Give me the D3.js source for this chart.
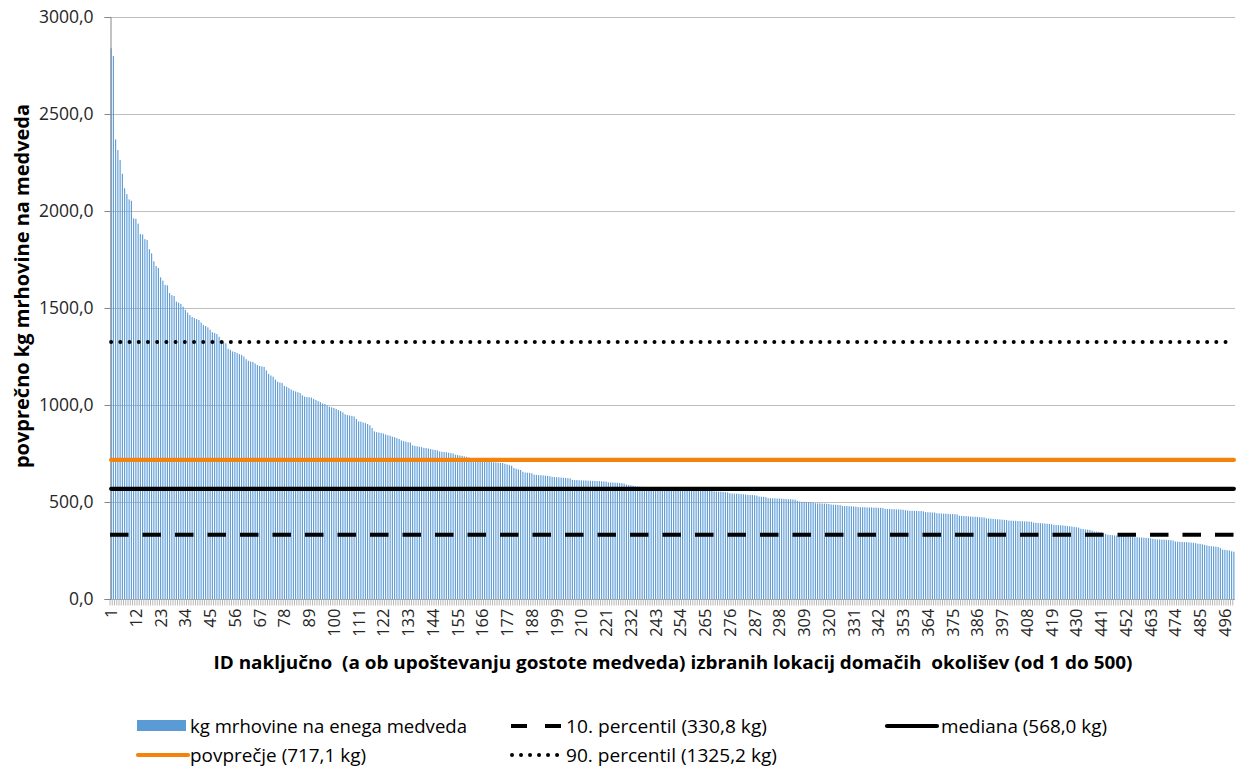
<!DOCTYPE html>
<html>
<head>
<meta charset="utf-8">
<script src="https://cdn.jsdelivr.net/npm/d3@7"></script>
<style>
  body { margin: 0; background: #fff; }
  text { font-family: "Open Sans", "DejaVu Sans", sans-serif; fill: #404040; }
</style>
</head>
<body>
<div id="chart"></div>
<script>
// kg mrhovine na enega medveda, sorted (ID 1..500)
var values = [
  2839, 2799, 2369, 2314, 2263, 2192, 2117, 2087, 2060, 2053,
  1962, 1960, 1935, 1881, 1879, 1855, 1850, 1803, 1782, 1741,
  1716, 1706, 1658, 1641, 1619, 1617, 1577, 1566, 1562, 1533,
  1528, 1521, 1507, 1490, 1476, 1464, 1454, 1448, 1443, 1438,
  1425, 1412, 1407, 1400, 1388, 1375, 1371, 1366, 1352, 1328,
  1326, 1318, 1290, 1284, 1276, 1273, 1268, 1262, 1258, 1250,
  1236, 1228, 1224, 1222, 1214, 1206, 1201, 1199, 1196, 1178,
  1160, 1152, 1146, 1131, 1120, 1116, 1113, 1098, 1094, 1087,
  1080, 1074, 1070, 1066, 1062, 1050, 1043, 1041, 1040, 1038,
  1031, 1026, 1020, 1015, 1008, 1005, 998, 991, 988, 985,
  980, 974, 969, 962, 952, 948, 946, 944, 941, 928,
  916, 914, 910, 907, 902, 895, 881, 864, 860, 858,
  856, 853, 848, 844, 842, 836, 834, 829, 825, 817,
  814, 811, 808, 806, 792, 789, 787, 785, 783, 779,
  778, 776, 773, 770, 768, 766, 761, 759, 758, 756,
  754, 752, 750, 744, 742, 740, 738, 735, 733, 729,
  724, 720, 716, 712, 711, 710, 709, 708, 707, 706,
  705, 704, 703, 702, 701, 697, 694, 690, 687, 675,
  671, 668, 665, 656, 652, 651, 650, 648, 641, 640,
  639, 638, 637, 636, 635, 633, 630, 629, 628, 627,
  626, 625, 624, 623, 622, 614, 613, 613, 612, 612,
  611, 611, 610, 610, 609, 609, 608, 608, 607, 606,
  605, 601, 600, 600, 599, 599, 598, 597, 595, 590,
  588, 586, 584, 581, 580, 579, 578, 578, 577, 576,
  576, 575, 574, 574, 573, 572, 571, 570, 569, 568,
  568, 567, 566, 566, 565, 565, 564, 564, 563, 563,
  562, 562, 561, 561, 560, 560, 559, 558, 555, 554,
  553, 553, 552, 551, 549, 545, 544, 543, 543, 542,
  541, 540, 539, 537, 536, 536, 535, 533, 528, 527,
  527, 525, 520, 520, 519, 519, 518, 518, 517, 516,
  515, 514, 514, 513, 512, 506, 502, 501, 501, 500,
  500, 499, 498, 494, 493, 493, 492, 492, 491, 490,
  487, 486, 486, 485, 484, 480, 479, 479, 478, 478,
  477, 476, 474, 473, 473, 473, 472, 472, 472, 471,
  471, 470, 470, 469, 465, 464, 464, 463, 463, 462,
  462, 461, 460, 458, 456, 455, 455, 454, 454, 453,
  453, 452, 448, 447, 447, 446, 446, 442, 441, 441,
  440, 440, 439, 438, 438, 437, 436, 429, 428, 428,
  427, 426, 425, 424, 424, 423, 422, 421, 420, 416,
  415, 414, 413, 412, 411, 410, 409, 408, 407, 404,
  404, 403, 403, 402, 401, 401, 400, 400, 399, 398,
  394, 393, 392, 391, 390, 389, 388, 387, 386, 382,
  381, 381, 380, 379, 378, 376, 375, 373, 372, 370,
  368, 362, 360, 359, 358, 356, 352, 348, 347, 346,
  344, 340, 336, 331, 330, 329, 328, 327, 326, 326,
  325, 324, 323, 322, 321, 318, 318, 317, 317, 316,
  315, 314, 313, 310, 308, 307, 307, 306, 306, 305,
  304, 303, 301, 296, 295, 295, 294, 293, 293, 292,
  291, 290, 288, 285, 284, 282, 279, 276, 273, 272,
  271, 270, 268, 262, 254, 253, 252, 250, 246, 244
];
var ids = d3.range(1, values.length + 1);

// statistics lines
var refNames = ["10. percentil (330,8 kg)", "mediana (568,0 kg)", "povprečje (717,1 kg)", "90. percentil (1325,2 kg)"];
var refValues = [330.8, 568.0, 717.1, 1325.2];

var yTicks = [0, 500, 1000, 1500, 2000, 2500, 3000];
var barLabel = "kg mrhovine na enega medveda";
var yTitle = "povprečno kg mrhovine na medveda";
var xTitle = "ID naključno  (a ob upoštevanju gostote medveda) izbranih lokacij domačih  okolišev (od 1 do 500)";

var width = 1236, height = 769;
var margin = { top: 17, right: 1, bottom: 170, left: 110 };

var svg = d3.select("#chart").append("svg")
  .attr("width", width)
  .attr("height", height);

var x = d3.scaleBand()
  .domain(ids)
  .range([margin.left, width - margin.right])
  .paddingInner(0.5)
  .paddingOuter(0.25);

var y = d3.scaleLinear()
  .domain([0, 3000])
  .range([height - margin.bottom, margin.top]);

var fmt = function (d) { return d3.format(".1f")(d).replace(".", ","); };

// gridlines
svg.append("g")
  .selectAll("line")
  .data(yTicks.slice(1))
  .enter().append("line")
  .attr("x1", margin.left).attr("x2", width - margin.right)
  .attr("y1", d => Math.round(y(d)) + 0.5).attr("y2", d => Math.round(y(d)) + 0.5)
  .style("stroke", "#bfbfbf");

// bars
svg.append("g")
  .selectAll("rect")
  .data(values)
  .enter().append("rect")
  .attr("x", (d, i) => x(ids[i]))
  .attr("width", x.bandwidth())
  .attr("y", d => y(d))
  .attr("height", d => y(0) - y(d))
  .style("fill", "#5b9bd5");

// x axis with a tick at every category
var xAxis = svg.append("g")
  .attr("transform", "translate(0," + (Math.round(y(0)) + 0.5) + ")");
xAxis.append("line")
  .attr("x1", margin.left).attr("x2", width - margin.right)
  .style("stroke", "#a6a6a6");
xAxis.selectAll("line.tick")
  .data(ids)
  .enter().append("line")
  .attr("class", "tick")
  .attr("x1", d => x(d) - x.step() * 0.25).attr("x2", d => x(d) - x.step() * 0.25)
  .attr("y1", 0).attr("y2", 6)
  .style("stroke", "#a6a6a6").style("stroke-width", 0.8);
xAxis.selectAll("text")
  .data(ids.filter(d => (d - 1) % 11 === 0))
  .enter().append("text")
  .attr("transform", d => "translate(" + (x(d) + x.bandwidth() / 2) + ",9) rotate(-90)")
  .attr("dy", "0.36em")
  .style("text-anchor", "end")
  .style("font-size", "16.5px")
  .style("fill", "#262626")
  .text(d => d);

// y axis
var yAxis = svg.append("g")
  .attr("transform", "translate(" + (margin.left + 0.5) + ",0)")
  .call(d3.axisLeft(y).tickValues(yTicks).tickFormat(fmt).tickSize(6).tickPadding(11));
yAxis.select(".domain").style("stroke", "#868686");
yAxis.selectAll(".tick line").style("stroke", "#868686");
yAxis.selectAll(".tick text")
  .style("font-size", "17.5px")
  .style("font-family", "'Open Sans', sans-serif")
  .style("fill", "#262626");

// statistic lines, from the first to the last category
var x0 = x(1) + x.bandwidth() / 2, x1 = x(500) + x.bandwidth() / 2;
var refStyles = [
  { color: "#000", dash: "18.5,14", cap: "butt", w: 4 },
  { color: "#000", dash: null, cap: "round", w: 4.2 },
  { color: "#f5820a", dash: null, cap: "round", w: 4.2 },
  { color: "#000", dash: "0.01,9.2", cap: "round", w: 4 }
];
svg.append("g")
  .selectAll("line")
  .data(refValues)
  .enter().append("line")
  .attr("x1", (d, i) => i === 0 ? margin.left : x0).attr("x2", x1)
  .attr("y1", d => y(d)).attr("y2", d => y(d))
  .style("stroke", (d, i) => refStyles[i].color)
  .style("stroke-width", (d, i) => refStyles[i].w)
  .style("stroke-linecap", (d, i) => refStyles[i].cap)
  .style("stroke-dasharray", (d, i) => refStyles[i].dash);

// axis titles
svg.append("text")
  .attr("transform", "translate(29,286) rotate(-90)")
  .style("text-anchor", "middle")
  .style("font-size", "20px")
  .style("font-weight", "bold")
  .style("fill", "#000")
  .text(yTitle);

svg.append("text")
  .attr("x", 673).attr("y", 669)
  .style("text-anchor", "middle")
  .style("font-size", "18px")
  .style("font-weight", "bold")
  .style("fill", "#000")
  .style("white-space", "pre")
  .attr("textLength", 919)
  .attr("lengthAdjust", "spacingAndGlyphs")
  .text(xTitle);

// legend
var legend = svg.append("g");
legend.append("rect")
  .attr("x", 137).attr("y", 720).attr("width", 49).attr("height", 11)
  .style("fill", "#5b9bd5");
var legItems = [
  { label: barLabel, x: 190, y: 733, len: 277 },
  { label: refNames[0], x: 566, y: 733, sym: 0, sx: 511, len: 201 },
  { label: refNames[1], x: 941, y: 733, sym: 1, sx: 887, len: 166 },
  { label: refNames[2], x: 190, y: 762, sym: 2, sx: 138, len: 176 },
  { label: refNames[3], x: 566, y: 762, sym: 3, sx: 512, len: 211 }
];
legItems.forEach(function (it) {
  if (it.sym !== undefined) {
    var s = refStyles[it.sym];
    legend.append("line")
      .attr("x1", it.sx).attr("x2", it.sx + 50)
      .attr("y1", it.y - 7).attr("y2", it.y - 7)
      .style("stroke", s.color)
      .style("stroke-width", s.w)
      .style("stroke-linecap", s.cap)
      .style("stroke-dasharray", it.sym === 0 ? "16,18" : (it.sym === 3 ? "0.01,9" : null));
  }
  legend.append("text")
    .attr("x", it.x).attr("y", it.y)
    .style("font-size", "17.5px")
    .style("fill", "#000")
    .attr("textLength", it.len)
    .attr("lengthAdjust", "spacingAndGlyphs")
    .text(it.label);
});
</script>
</body>
</html>
